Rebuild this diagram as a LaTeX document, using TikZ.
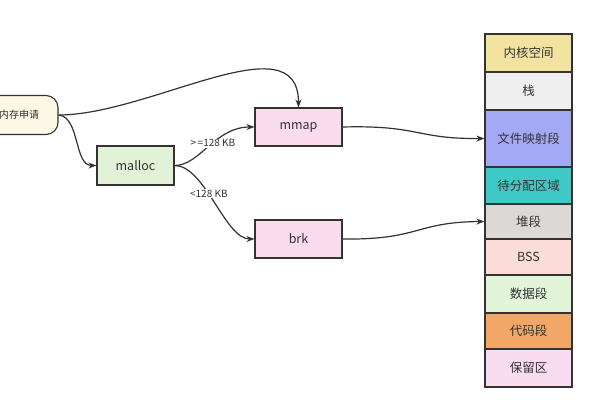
\documentclass[tikz,border=0pt]{standalone}
\usepackage{fontspec}
\setmainfont{Noto Sans CJK SC}
\usetikzlibrary{arrows.meta}
\definecolor{edgec}{HTML}{333333}
\definecolor{txt}{HTML}{333333}
\definecolor{creamf}{HTML}{FDF8E6}
\definecolor{greenf}{HTML}{E1F2D6}
\definecolor{pinkf}{HTML}{FBDCEF}
\definecolor{kernf}{HTML}{F2E4A0}
\definecolor{stackf}{HTML}{EEEEEE}
\definecolor{mapf}{HTML}{A3A9F5}
\definecolor{freef}{HTML}{3FC9C6}
\definecolor{heapf}{HTML}{DCD8D5}
\definecolor{bssf}{HTML}{FBDCD8}
\definecolor{dataf}{HTML}{E2F5D9}
\definecolor{codef}{HTML}{F2A766}
\definecolor{resf}{HTML}{FADCF0}
\begin{document}
\begin{tikzpicture}[x=1pt,y=-1pt,
  box/.style={draw=edgec,line width=1.1pt,inner sep=0pt,text=txt,font=\fontsize{12.5}{14}\selectfont},
  seg/.style={box,minimum width=87pt},
  conn/.style={draw=edgec,line width=1.2pt,-{Stealth[length=8pt,width=6pt]}},
  lbl/.style={fill=white,inner sep=1pt,text=txt,font=\fontsize{10}{11}\selectfont}]
\useasboundingbox (0,0) rectangle (600,400);
\clip (0,0) rectangle (600,400);
\fill[white] (0,0) rectangle (600,400);
% left nodes
\node[box,fill=creamf,rounded corners=12pt,minimum width=80pt,minimum height=39pt,font=\fontsize{10}{11}\selectfont] (req) at (18,115) {\hspace*{2pt}内存申请};
\node[box,fill=greenf,minimum width=77pt,minimum height=39pt] (malloc) at (135.5,165.5) {malloc};
\node[box,fill=pinkf,minimum width=87pt,minimum height=38pt] (mmap) at (298.5,127) {mmap};
\node[box,fill=pinkf,minimum width=87pt,minimum height=38pt] (brk) at (298.5,239) {brk};
% memory layout
\node[seg,fill=kernf,minimum height=38pt] (kern) at (528.5,53) {内核空间};
\node[seg,fill=stackf,minimum height=38pt] (stk) at (528.5,91) {栈};
\node[seg,fill=mapf,minimum height=57pt] (fmap) at (528.5,138.5) {文件映射段};
\node[seg,fill=freef,minimum height=37pt] (free) at (528.5,185.5) {待分配区域};
\node[seg,fill=heapf,minimum height=35pt] (heap) at (528.5,221.5) {堆段};
\node[seg,fill=bssf,minimum height=36pt] (bss) at (528.5,257) {BSS};
\node[seg,fill=dataf,minimum height=38pt] (data) at (528.5,294) {数据段};
\node[seg,fill=codef,minimum height=36pt] (code) at (528.5,331) {代码段};
\node[seg,fill=resf,minimum height=38pt] (res) at (528.5,368) {保留区};
% connectors
\draw[conn] (req.east) .. controls (150,115) and (298.5,20) .. (mmap.north);
\draw[conn] (req.east) .. controls (80,117) and (74,165.5) .. (malloc.west);
\draw[conn] (malloc.east) .. controls (200,165.5) and (215,127) .. node[lbl,pos=0.55] (l1) {>\,=128 KB} (mmap.west);
\draw[conn] (malloc.east) .. controls (205,165.5) and (225,239) .. node[lbl,pos=0.42] (l2) {<128 KB} (brk.west);
\draw[conn] (mmap.east) .. controls (420,125) and (415,139) .. (fmap.west);
\draw[conn] (brk.east) .. controls (420,240) and (415,222) .. (heap.west);
\end{tikzpicture}
\end{document}
